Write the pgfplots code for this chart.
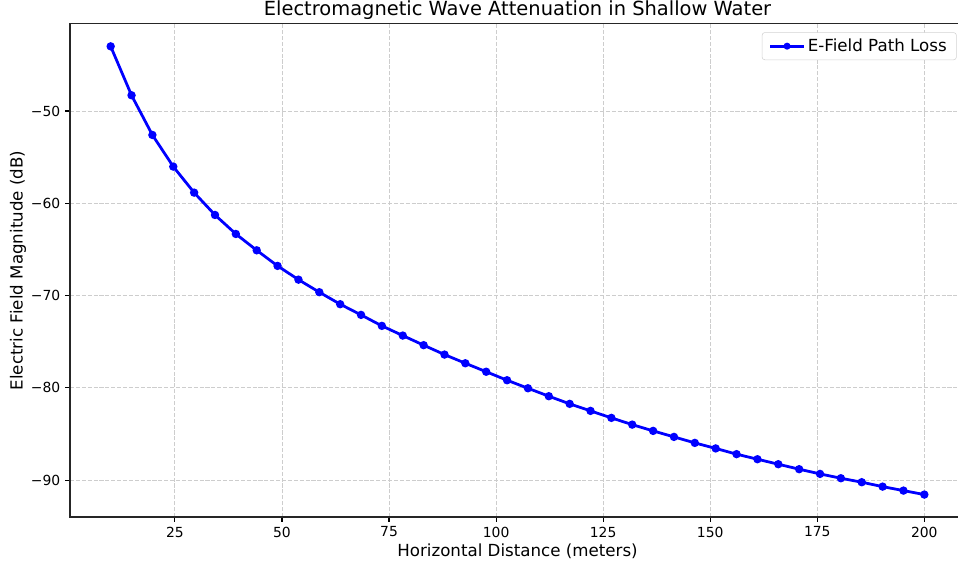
\documentclass[border=0pt]{standalone}
\usepackage{fontspec}
\setmainfont{DejaVu Sans}
\usepackage{pgfplots}
\pgfplotsset{compat=1.18}
\definecolor{gridgray}{RGB}{205,205,205}
\definecolor{legframe}{RGB}{210,210,210}

\begin{document}
\begin{tikzpicture}
\begin{axis}[
  name=ax,
  scale only axis,
  width=644.4pt, height=355pt,
  xmin=0.5, xmax=209.5,
  ymin=-94.0, ymax=-40.57,
  xtick={25,50,75,100,125,150,175,200},
  ytick={-90,-80,-70,-60,-50},
  yticklabels={−90,−80,−70,−60,−50},
  tick align=outside, tick pos=left,
  major tick length=3.5pt,
  every tick/.style={black, line width=0.8pt},
  axis line style={black!85, line width=0.8pt},
  tick label style={font=\fontsize{10}{12}\selectfont},
  /pgf/number format/assume math mode=true,
  grid=major,
  grid style={gridgray, line width=0.65pt, dash pattern=on 2.96pt off 1.28pt},
  title={Electromagnetic Wave Attenuation in Shallow Water},
  every axis title/.style={at={(axis description cs:0.5,1)}, anchor=base, yshift=6pt,
    font=\fontsize{14}{16}\selectfont},
  xlabel={Horizontal Distance (meters)},
  ylabel={Electric Field Magnitude (dB)},
  every axis x label/.style={at={(axis description cs:0.5,-0.069)}, anchor=center,
    font=\fontsize{12}{14}\selectfont},
  every axis y label/.style={at={(axis description cs:-0.058,0.5)}, rotate=90, anchor=center,
    font=\fontsize{12}{14}\selectfont},
  legend style={at={(1,1)}, anchor=north east, xshift=-6pt, yshift=-6pt,
    draw=legframe, rounded corners=2pt, font=\fontsize{12}{14}\selectfont,
    inner xsep=5pt, inner ysep=2.5pt},
  legend cell align=left,
  legend image code/.code={
    \draw[mark repeat=2, mark phase=2, mark size=2pt] plot coordinates {(0pt,0pt) (12pt,0pt) (24pt,0pt)};
  },
]
\addplot[color=blue, line width=2pt, mark=*, mark size=2.5pt, mark options={line width=1pt}] coordinates {
  (10.00,-43.00) (14.87,-48.30) (19.74,-52.60) (24.62,-56.03) (29.49,-58.85)
  (34.36,-61.27) (39.23,-63.33) (44.10,-65.10) (48.97,-66.79) (53.85,-68.28)
  (58.72,-69.64) (63.59,-70.94) (68.46,-72.10) (73.33,-73.29) (78.21,-74.34)
  (83.08,-75.38) (87.95,-76.40) (92.82,-77.34) (97.69,-78.26) (102.56,-79.18)
  (107.44,-80.05) (112.31,-80.91) (117.18,-81.74) (122.05,-82.50) (126.92,-83.26)
  (131.79,-83.99) (136.67,-84.67) (141.54,-85.32) (146.41,-85.97) (151.28,-86.57)
  (156.15,-87.19) (161.03,-87.74) (165.90,-88.28) (170.77,-88.82) (175.64,-89.33)
  (180.51,-89.80) (185.38,-90.23) (190.26,-90.71) (195.13,-91.14) (200.00,-91.57)
};
\addlegendentry{E-Field Path Loss}
\end{axis}
\pgfresetboundingbox
\path (ax.south west) ++(-50.4pt,-36pt) rectangle ++(689.76pt,408.24pt);
\end{tikzpicture}
\end{document}
